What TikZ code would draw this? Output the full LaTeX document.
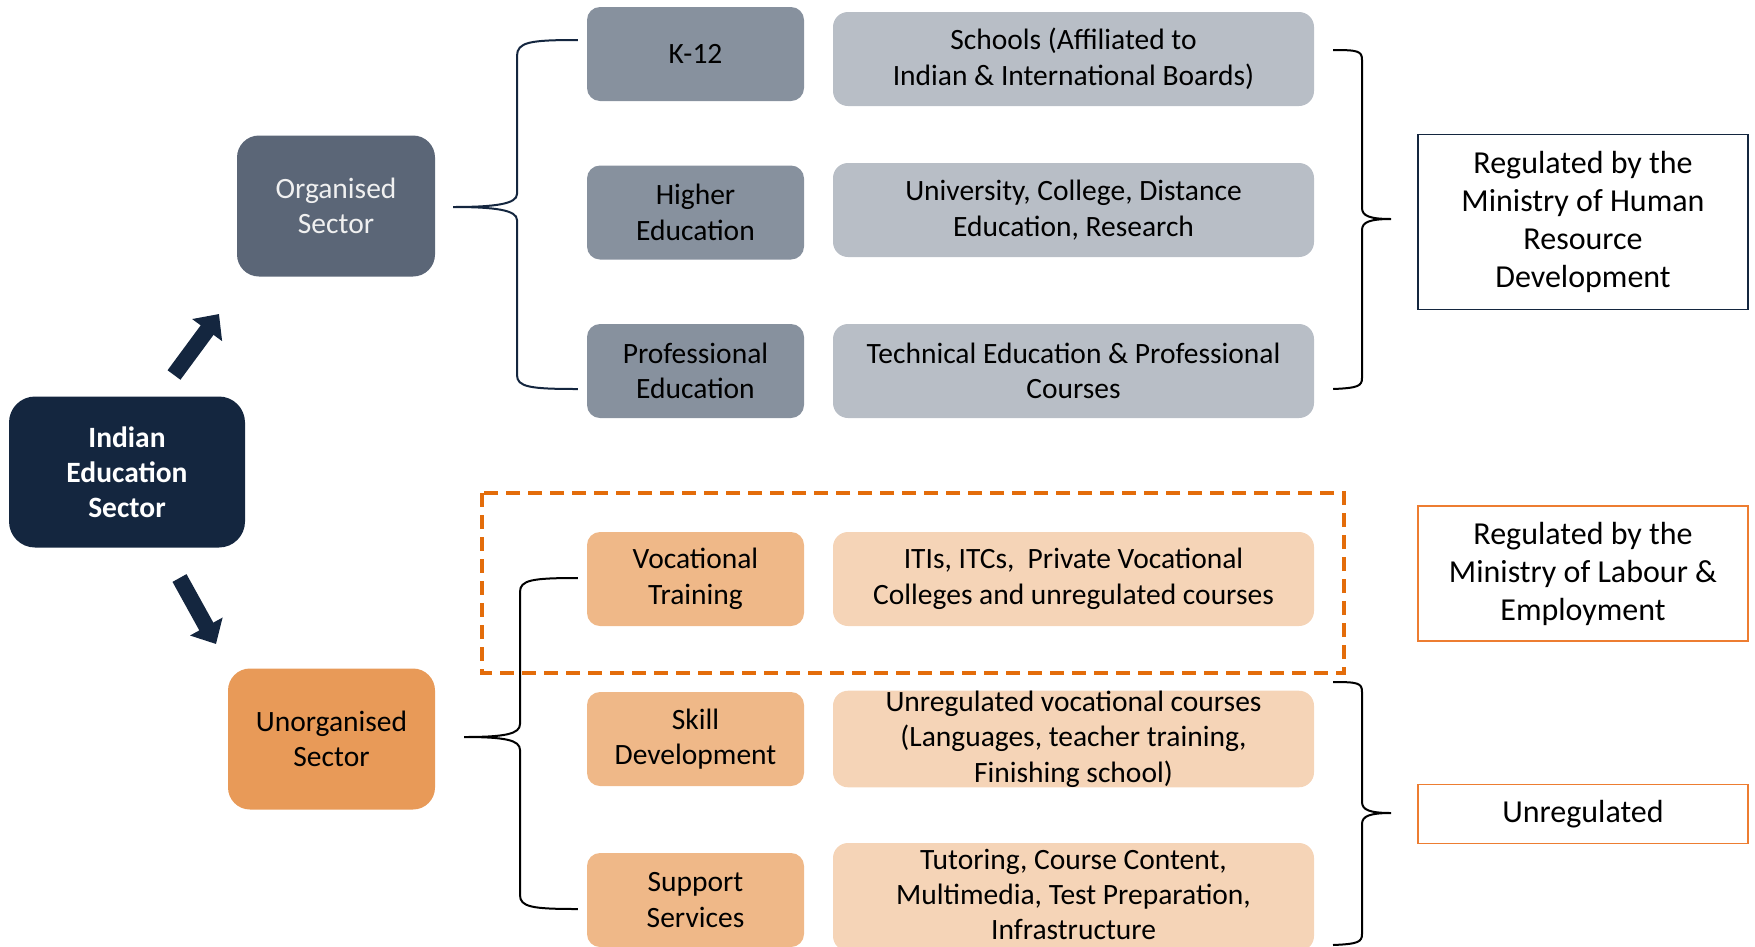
\documentclass[tikz,border=0pt]{standalone}
\usepackage{fontspec}
\setmainfont{Carlito}
\usetikzlibrary{arrows.meta,calc}

\definecolor{navy}{HTML}{14263F}
\definecolor{slate}{HTML}{5B6677}
\definecolor{greymid}{HTML}{87919E}
\definecolor{greylight}{HTML}{B8BEC6}
\definecolor{orangedeep}{HTML}{E89A58}
\definecolor{orangemid}{HTML}{EFB888}
\definecolor{orangelight}{HTML}{F5D4B7}
\definecolor{dashorange}{HTML}{E36C0A}
\definecolor{lineorange}{HTML}{ED7D31}

\begin{document}
\begin{tikzpicture}[x=1pt,y=-1pt,
  sector/.style={rounded corners=22pt, align=center, inner sep=0pt,
    font=\fontsize{29.5}{35}\selectfont},
  catbox/.style={rounded corners=13pt, align=center, inner sep=0pt,
    minimum width=217pt, minimum height=94pt,
    font=\fontsize{29.5}{35.5}\selectfont},
  descbox/.style={rounded corners=15pt, align=center, inner sep=0pt,
    minimum width=481pt, minimum height=94pt,
    font=\fontsize{29.5}{35.5}\selectfont},
  regbox/.style={draw, line width=1.8pt, align=center, inner sep=0pt,
    minimum width=330pt, font=\fontsize{32}{38}\selectfont},
  bigarrow/.style={draw=navy, line width=16pt,
    -{Triangle[length=20pt,width=36pt]}},
  bracket/.style={line width=2pt}
]
\useasboundingbox (0,0) rectangle (1755,946);

% sectors
\node[sector, fill=navy, text=white, font=\fontsize{29.5}{35}\selectfont\bfseries,
  minimum width=236pt, minimum height=151pt, rounded corners=26pt]
  (ies) at (127,472) {Indian\\Education\\Sector};
\node[sector, fill=slate, text=white!94!black, minimum width=198pt, minimum height=141pt]
  (org) at (336,206) {Organised\\Sector};
\node[sector, fill=orangedeep, text=black, minimum width=207pt, minimum height=141pt]
  (unorg) at (331.5,739) {Unorganised\\Sector};

% organised segments
\node[catbox, fill=greymid] (k12) at (695.5,54) {K-12};
\node[catbox, fill=greymid] (higher) at (695.5,212.5) {Higher\\Education};
\node[catbox, fill=greymid] (prof) at (695.5,371) {Professional\\Education};
\node[descbox, fill=greylight] (schools) at (1073.5,59) {Schools (Affiliated to\\Indian \& International Boards)};
\node[descbox, fill=greylight] (univ) at (1073.5,210) {University, College, Distance\\Education, Research};
\node[descbox, fill=greylight] (tech) at (1073.5,371) {Technical Education \& Professional\\Courses};

% unorganised segments
\node[catbox, fill=orangemid] (voc) at (695.5,579) {Vocational\\Training};
\node[catbox, fill=orangemid] (skill) at (695.5,739) {Skill\\Development};
\node[catbox, fill=orangemid] (support) at (695.5,900) {Support\\Services};
\node[descbox, fill=orangelight] (itis) at (1073.5,579) {ITIs, ITCs,\ \ Private Vocational\\Colleges and unregulated courses};
\node[descbox, fill=orangelight] (unregc) at (1073.5,739) {Unregulated vocational courses\\(Languages, teacher training,\\Finishing school)};
\node[descbox, fill=orangelight, minimum height=108pt] (tutor) at (1073.5,897) {};
\node[align=center, inner sep=0pt, font=\fontsize{29.5}{35}\selectfont]
  (tutortext) at (1073.5,894) {Tutoring, Course Content,\\Multimedia, Test Preparation,\\Infrastructure};

% regulators
\node[regbox, draw=navy, minimum height=175pt] (mhrd) at (1583,222)
  {Regulated by the\\Ministry of Human\\Resource\\Development};
\node[regbox, draw=lineorange, minimum height=135pt] (mole) at (1583,573.5)
  {Regulated by the\\Ministry of Labour \&\\Employment};
\node[regbox, draw=lineorange, minimum height=59pt] (unreg) at (1583,814)
  {Unregulated};

% vocational segment highlight
\draw[dashorange, line width=4pt, dash pattern=on 14pt off 8pt]
  (482,493) rectangle (1344,673);

% sector arrows
\coordinate (upTail) at (174,375);
\coordinate (upTip) at (219,314);
\coordinate (dnTail) at (179.5,578);
\coordinate (dnTip) at (216,644);
\draw[bigarrow] (upTail) -- (upTip);
\draw[bigarrow] (dnTail) -- (dnTip);

% left brackets
\coordinate (orgTip) at (453,207);
\coordinate (unorgTip) at (464,737);
\draw[bracket, navy]
  ($(k12.west)+(-9,-14)$) .. controls (530,40) and (517,42) .. (517,56)
  -- (517,194) .. controls (517,204) and (495,207) .. (orgTip)
  .. controls (495,207) and (517,210) .. (517,220)
  -- (517,375) .. controls (517,387) and (530,389) .. ($(prof.west)+(-9,18)$);
\draw[bracket, black]
  ($(voc.west)+(-9,-1)$) .. controls (532,578) and (520,580) .. (520,592)
  -- (520,724) .. controls (520,734) and (505,737) .. (unorgTip)
  .. controls (505,737) and (520,740) .. (520,750)
  -- (520,895) .. controls (520,907) and (532,909) .. ($(support.west)+(-9,9)$);

% right brackets
\coordinate (mhrdTip) at (1391,219);
\coordinate (unregTip) at (1391,813);
\draw[bracket, black]
  ($(schools.east)+(19,-9)$) .. controls (1358,50) and (1362,51) .. (1362,60)
  -- (1362,208) .. controls (1362,216) and (1370,219) .. (mhrdTip)
  .. controls (1370,219) and (1362,222) .. (1362,230)
  -- (1362,378) .. controls (1362,386) and (1358,388) .. ($(tech.east)+(19,18)$);
\draw[bracket, black]
  ($(unregc.east)+(19,-57)$) .. controls (1358,682) and (1362,683) .. (1362,692)
  -- (1362,802) .. controls (1362,810) and (1370,813) .. (unregTip)
  .. controls (1370,813) and (1362,816) .. (1362,824)
  -- (1362,934) .. controls (1362,942) and (1358,944) .. (1333,945);
\end{tikzpicture}
\end{document}
